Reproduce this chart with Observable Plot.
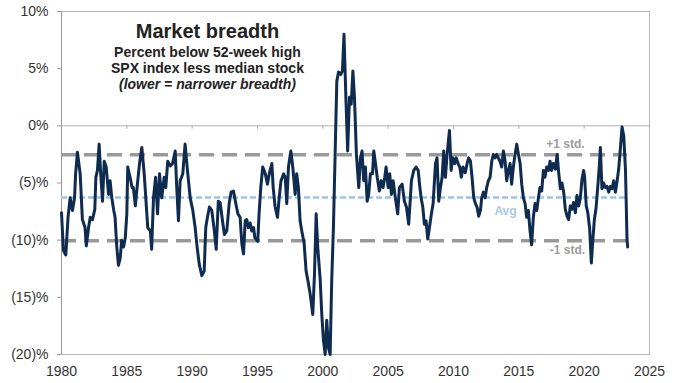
<!DOCTYPE html>
<html>
<head>
<meta charset="utf-8">
<script src="https://cdn.jsdelivr.net/npm/d3@7"></script>
<script src="https://cdn.jsdelivr.net/npm/@observablehq/plot@0.6"></script>
<style>
  html, body { margin: 0; padding: 0; background: #fff; }
  #chart { width: 680px; height: 383px; }
</style>
</head>
<body>
<div id="chart"></div>
<script>
// ---- data ----
const years = [
  1980.00,1980.15,1980.33,1980.50,1980.66,1980.84,1981.00,1981.08,1981.22,1981.43,1981.60,1981.80,1981.90,
  1982.07,1982.20,1982.37,1982.55,1982.63,1982.75,1982.88,1983.00,1983.14,1983.27,1983.42,1983.60,1983.72,1983.85,
  1984.00,1984.10,1984.23,1984.36,1984.50,1984.60,1984.75,1984.88,1985.00,1985.07,1985.25,1985.40,1985.50,1985.65,1985.80,
  1985.97,1986.15,1986.33,1986.48,1986.60,1986.80,1986.90,1987.04,1987.20,1987.35,1987.50,1987.67,1987.86,1987.98,
  1988.13,1988.32,1988.50,1988.70,1988.82,1988.95,1989.08,1989.28,1989.46,1989.64,1989.85,1990.05,1990.23,1990.35,
  1990.54,1990.74,1990.92,1991.04,1991.17,1991.32,1991.50,1991.70,1991.84,1992.00,1992.14,1992.32,1992.47,1992.65,
  1992.83,1992.98,1993.16,1993.34,1993.50,1993.67,1993.80,1993.93,1994.06,1994.18,1994.30,1994.44,1994.56,1994.70,
  1994.80,1995.02,1995.12,1995.25,1995.40,1995.60,1995.76,1995.90,1996.10,1996.20,1996.35,1996.53,1996.66,1996.80,
  1997.00,1997.12,1997.24,1997.37,1997.55,1997.70,1997.88,1998.00,1998.13,1998.26,1998.39,1998.57,1998.72,1998.90,
  1999.03,1999.23,1999.36,1999.49,1999.61,1999.80,1999.92,2000.05,2000.18,2000.30,2000.43,2000.56,2000.68,2000.81,
  2000.94,2001.07,2001.20,2001.37,2001.50,2001.62,2001.78,2001.90,2002.04,2002.17,2002.30,2002.42,2002.57,2002.75,
  2002.88,2003.00,2003.13,2003.26,2003.39,2003.51,2003.64,2003.80,2003.90,2004.03,2004.16,2004.33,2004.46,2004.61,
  2004.74,2004.84,2005.00,2005.12,2005.25,2005.38,2005.55,2005.73,2005.86,2006.07,2006.24,2006.40,2006.57,2006.70,
  2006.78,2006.96,2007.14,2007.30,2007.40,2007.52,2007.65,2007.77,2007.90,2008.03,2008.16,2008.31,2008.44,2008.62,
  2008.74,2008.87,2009.00,2009.13,2009.25,2009.38,2009.51,2009.69,2009.82,2009.94,2010.09,2010.20,2010.35,2010.48,
  2010.60,2010.73,2010.90,2011.04,2011.16,2011.30,2011.42,2011.55,2011.68,2011.80,2011.93,2012.06,2012.16,2012.29,
  2012.42,2012.54,2012.67,2012.80,2012.93,2013.05,2013.18,2013.30,2013.43,2013.56,2013.69,2013.82,2013.95,2014.07,
  2014.20,2014.33,2014.45,2014.58,2014.71,2014.84,2014.97,2015.10,2015.22,2015.35,2015.48,2015.60,2015.73,2015.86,
  2015.98,2016.11,2016.24,2016.37,2016.50,2016.62,2016.75,2016.88,2017.00,2017.13,2017.26,2017.39,2017.50,2017.64,
  2017.80,2017.93,2018.05,2018.18,2018.30,2018.43,2018.56,2018.69,2018.81,2018.94,2019.07,2019.19,2019.33,2019.45,
  2019.58,2019.70,2019.83,2019.96,2020.03,2020.16,2020.28,2020.42,2020.55,2020.65,2020.78,2020.90,2021.03,2021.16,
  2021.24,2021.36,2021.49,2021.62,2021.75,2021.88,2022.00,2022.13,2022.26,2022.39,2022.50,2022.64,2022.77,2022.90,
  2023.03,2023.16,2023.28,2023.33
];
const values = [
  -7.6,-10.9,-11.3,-8.0,-6.3,-7.4,-6.3,-4.2,-2.3,-4.2,-8.2,-8.9,-10.5,
  -8.9,-8.0,-8.2,-7.3,-4.5,-3.9,-1.6,-4.2,-6.6,-3.1,-3.6,-6.0,-4.8,-6.3,
  -7.4,-8.0,-10.6,-12.2,-11.5,-10.0,-10.6,-9.8,-7.7,-3.6,-4.5,-5.4,-5.4,-7.0,-5.2,
  -3.3,-1.9,-4.2,-6.8,-8.9,-9.2,-10.8,-6.3,-4.5,-7.7,-4.2,-6.3,-4.5,-5.4,
  -3.1,-3.5,-3.3,-2.2,-5.4,-8.3,-4.8,-4.2,-1.6,-3.9,-6.3,-7.4,-8.9,-10.3,
  -12.1,-13.1,-12.7,-8.9,-8.0,-7.1,-7.4,-9.2,-10.8,-6.6,-6.7,-8.3,-9.5,-9.2,
  -6.8,-5.8,-5.7,-6.8,-7.7,-8.0,-10.3,-11.2,-8.3,-8.2,-8.9,-8.5,-9.2,-8.9,
  -9.8,-10.1,-7.7,-5.4,-3.6,-4.2,-5.1,-4.2,-3.3,-5.4,-7.1,-8.0,-6.3,-4.8,
  -4.2,-4.5,-6.8,-3.6,-2.2,-3.6,-6.0,-4.2,-5.4,-8.3,-9.2,-10.3,-12.7,-13.8,
  -14.7,-16.5,-13.0,-7.7,-10.6,-13.5,-16.5,-18.8,-20.0,-17.0,-19.4,-20.0,-13.5,-8.9,
  -2.5,3.9,4.7,4.5,4.8,8.0,1.9,-2.2,2.5,1.9,4.8,2.5,-2.5,-5.4,
  -2.8,-2.2,-4.8,-3.6,-6.6,-6.0,-4.2,-4.2,-2.2,-3.3,-4.5,-5.7,-4.8,-5.4,
  -4.5,-3.6,-5.4,-4.2,-6.0,-4.8,-6.3,-7.7,-5.4,-5.1,-6.6,-7.1,-8.6,-6.3,
  -4.8,-3.9,-3.6,-3.9,-5.1,-6.3,-7.1,-8.6,-8.3,-9.9,-8.9,-7.7,-6.8,-3.3,
  -2.8,-6.6,-5.4,-4.5,-2.2,-4.5,-2.5,-0.4,-3.9,-2.8,-3.3,-2.8,-3.3,-3.6,
  -4.5,-3.6,-4.1,-3.3,-2.8,-3.1,-4.5,-6.3,-6.8,-7.1,-7.9,-7.4,-6.3,-5.8,
  -6.3,-5.4,-4.8,-4.5,-3.1,-2.5,-2.8,-2.5,-2.8,-3.1,-3.6,-2.2,-3.1,-4.8,
  -3.9,-3.3,-5.1,-3.6,-2.5,-1.6,-2.5,-3.3,-5.1,-6.3,-6.8,-8.0,-7.4,-9.2,
  -10.4,-8.0,-6.8,-7.4,-6.3,-5.4,-5.7,-3.9,-4.5,-3.6,-3.9,-3.1,-3.9,-3.3,
  -3.8,-2.5,-4.1,-5.5,-5.0,-5.8,-7.3,-7.9,-8.2,-7.0,-7.3,-6.7,-7.6,-6.1,
  -7.0,-6.4,-4.7,-3.9,-4.4,-7.0,-7.6,-9.0,-12.0,-10.2,-8.2,-7.3,-5.5,-3.5,
  -1.9,-5.5,-5.0,-5.4,-5.3,-5.8,-5.3,-5.5,-4.8,-5.8,-5.0,-3.8,-2.0,-0.1,
  -0.9,-3.8,-9.9,-10.6
];

// reference levels
const plusStd = -2.52, avgLevel = -6.27, minusStd = -10.05;
const refStart = 1980, refEnd = 2023.3;

// tick labels
const xTicks = [1980, 1985, 1990, 1995, 2000, 2005, 2010, 2015, 2020, 2025];
const yTicks = [10, 5, 0, -5, -10, -15, -20];
const yLabel = d => d < 0 ? `(${-d})%` : `${d}%`;

// titles and annotations
const titleLines = [
  {text: "Market breadth", x: 1991.17, y: 8.22, size: 20, style: "normal"},
  {text: "Percent below 52-week high", x: 1991.17, y: 6.40, size: 14, style: "normal"},
  {text: "SPX index less median stock", x: 1991.17, y: 5.00, size: 14, style: "normal"},
  {text: "(lower = narrower breadth)", x: 1991.17, y: 3.63, size: 14, style: "italic"}
];
const refLabels = [
  {text: "+1 std.", x: 2018.57, y: -1.56, color: "#9c9c9c"},
  {text: "Avg", x: 2013.98, y: -7.42, color: "#a9c9ea"},
  {text: "-1 std.", x: 2018.72, y: -10.83, color: "#9c9c9c"}
];

const series = years.map((t, i) => ({t, v: values[i]}));

const chart = Plot.plot({
  width: 680,
  height: 383,
  marginLeft: 61,
  marginRight: 31,
  marginTop: 11,
  marginBottom: 29,
  style: {fontFamily: "'Liberation Sans', Arial, sans-serif", fontSize: "14px", color: "#333", background: "#fff"},
  x: {domain: [1980, 2025]},
  y: {domain: [-20, 10]},
  marks: [
    Plot.frame({stroke: "#b8b8b8"}),
    Plot.ruleY([0], {stroke: "#b0b0b0", strokeWidth: 1}),
    Plot.ruleX(xTicks, {x: d => d, y1: 0, y2: -0.3, stroke: "#b0b0b0"}),
    Plot.ruleX([1980], {stroke: "#999"}),
    Plot.axisY({ticks: yTicks, tickFormat: yLabel, tickSize: 4, tickPadding: 9, stroke: "#999", fill: "#333", fontSize: 14}),
    Plot.axisX({ticks: xTicks, tickFormat: d => String(d), tickSize: 0, tickPadding: 12, fill: "#333", fontSize: 14}),
    Plot.ruleY([plusStd, minusStd], {x1: refStart, x2: refEnd, stroke: "#999", strokeWidth: 3.5, strokeDasharray: "15,8"}),
    Plot.ruleY([avgLevel], {x1: refStart, x2: refEnd, stroke: "#9dc3e6", strokeWidth: 2.5, strokeDasharray: "6,3"}),
    Plot.line(series, {x: "t", y: "v", stroke: "#0f2b50", strokeWidth: 3, strokeLinejoin: "round", strokeLinecap: "round"}),
    ...titleLines.map(l => Plot.text([l], {x: "x", y: "y", text: "text", fontSize: l.size, fontWeight: "bold", fontStyle: l.style, fill: "#222", textAnchor: "middle", lineAnchor: "middle"})),
    Plot.text(refLabels, {x: "x", y: "y", text: "text", fill: "color", fontSize: 12, fontWeight: "bold", textAnchor: "middle", lineAnchor: "middle"})
  ]
});
document.getElementById("chart").appendChild(chart);
</script>
</body>
</html>
